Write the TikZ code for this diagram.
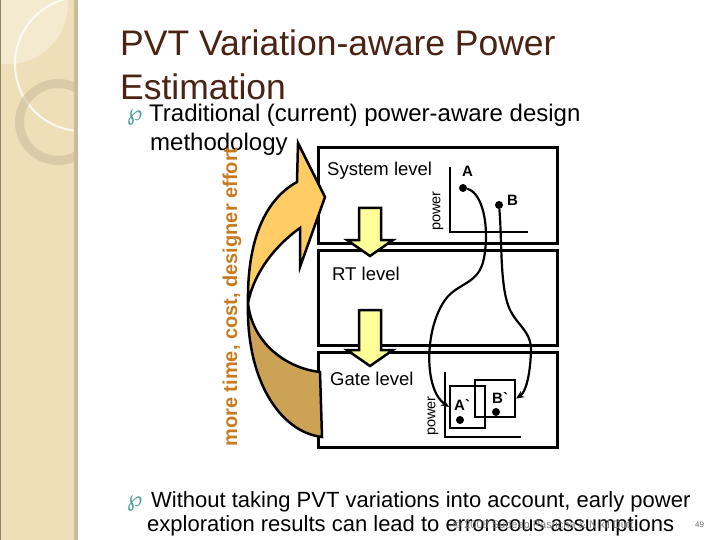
\documentclass[tikz,border=0pt]{standalone}
\usepackage{fontspec}
\setmainfont{Liberation Sans}
\newfontfamily\symfont{DejaVu Sans}
\newfontfamily\primefont{Liberation Sans}[Ligatures=TeXOff]
\usetikzlibrary{arrows.meta}
\definecolor{bandtan}{HTML}{EFDFB8}
\definecolor{bandedge}{HTML}{C9BB9C}
\definecolor{titlebrown}{HTML}{4B2315}
\definecolor{bullteal}{HTML}{4F9A9E}
\definecolor{lightorange}{HTML}{FFCC66}
\definecolor{darktan}{HTML}{CCA255}
\definecolor{efforttext}{HTML}{C87A1E}
\definecolor{paleyellow}{HTML}{FFFF99}
\tikzset{
  levelbox/.style={draw=black,line width=3pt,minimum width=239pt,minimum height=95pt,inner sep=0pt},
  leveltext/.style={anchor=base west,inner sep=0pt,font=\fontsize{18.5}{20}\selectfont},
  powertext/.style={rotate=90,inner sep=0pt,font=\fontsize{14.5}{16}\selectfont},
  ptlabel/.style={anchor=base west,inner sep=0pt,font=\primefont\bfseries\fontsize{15}{16}\selectfont},
  ptdot/.style={circle,fill=black,inner sep=0pt,minimum size=8pt},
  primebox/.style={draw=black,line width=2pt,inner sep=0pt},
  axis/.style={draw=black,line width=2.2pt},
  trend/.style={draw=black,line width=2.2pt,-{Stealth[length=8pt,width=7pt]}},
  downarrow/.style={draw=black,line width=2.5pt,fill=paleyellow,line join=miter},
  bodytext/.style={anchor=base west,inner sep=0pt,font=\fontsize{24}{26}\selectfont},
  bullet/.style={anchor=base west,inner sep=0pt,text=bullteal,font=\symfont\fontsize{22}{24}\selectfont}
}
\begin{document}
\begin{tikzpicture}[x=1pt,y=-1pt]
  \useasboundingbox (0,0) rectangle (720,540);
  % left band
  \begin{scope}
  \clip (0,0) rectangle (78,540);
  \fill[bandtan] (0,0) rectangle (78,540);
  \fill[white,opacity=0.35] (8,4) circle (60);
  \draw[white,line width=2pt,opacity=0.8] (82,64) circle (67);
  \draw[bandedge,line width=9pt,opacity=0.55] (58,122) circle (38.5);
  \fill[bandedge] (74,0) rectangle (78,540);
  \fill[bandedge!70!black] (0,0) rectangle (1.2,540);
  \end{scope}

  % title and bullets
  \node[anchor=base west,inner sep=0pt,text=titlebrown,font=\fontsize{35.5}{40}\selectfont] (title1) at (120,56) {PVT Variation-aware Power};
  \node[anchor=base west,inner sep=0pt,text=titlebrown,font=\fontsize{35.5}{40}\selectfont] (title2) at (120,100) {Estimation};
  \node[bullet] (bul1) at (127,121) {℘};
  \node[bodytext] (trad) at (149,122) {Traditional (current) power-aware design};
  \node[bodytext] (meth) at (150,151) {methodology};

  % level boxes
  \node[levelbox] (sys) at (437.5,195.5) {};
  \node[levelbox] (rtl) at (437.5,297.5) {};
  \node[levelbox] (gate) at (437.5,400) {};
  \node[leveltext] (systext) at (327,176) {System level};
  \node[leveltext] (rtltext) at (332,280) {RT level};
  \node[leveltext] (gatetext) at (330,385) {Gate level};

  % yellow refinement arrows
  \draw[downarrow] (359,208) -- (381,208) -- (381,240) -- (393,240) -- (370,256)
    -- (347,240) -- (359,240) -- cycle;
  \draw[downarrow] (359,310) -- (381,310) -- (381,350) -- (393,350) -- (370,366)
    -- (347,350) -- (359,350) -- cycle;

  % system level power plot
  \coordinate (sysorig) at (450,232);
  \draw[axis] (450,167) -- (sysorig) -- (528,232);
  \node[powertext] (syspow) at (438,211) {power};
  \node[ptlabel] (alab) at (462,177) {A};
  \node[ptlabel] (blab) at (507,206) {B};
  \node[ptdot] (dota) at (463,188) {};
  \node[ptdot] (dotb) at (499,205) {};

  % gate level power plot
  \coordinate (gateorig) at (445,437);
  \draw[axis] (445,372) -- (gateorig) -- (521,437);
  \node[powertext] (gatepow) at (433,416) {power};
  \node[primebox,minimum width=35pt,minimum height=42pt] (aprime) at (467.5,407) {};
  \node[primebox,minimum width=40pt,minimum height=37pt] (bprime) at (495,398.5) {};
  \node[ptlabel] (aplab) at (454,410) {A`};
  \node[ptlabel] (bplab) at (492,403) {B`};
  \node[ptdot] (dotap) at (460,420) {};
  \node[ptdot] (dotbp) at (496,412) {};

  % estimates drifting between levels
  \draw[trend] (dota) .. controls (482,192) and (490,225) .. (484,258)
    .. controls (479,285) and (458,282) .. (445,300)
    .. controls (424,330) and (424,390) .. (aprime.west);
  \draw[trend] (dotb) .. controls (502,240) and (500,282) .. (508,305)
    .. controls (515,325) and (532,330) .. (531,352)
    .. controls (530,375) and (526,392) .. (bprime.east);

  % big curved arrow
  \begin{scope}[line width=2.5pt,line join=miter]
  \coordinate (turn) at (248,303);
  \filldraw[fill=darktan] (turn) .. controls (246,380) and (280,432) .. (322,437)
    -- (320,372) .. controls (285,368) and (252,342) .. (turn);
  \filldraw[fill=lightorange] (turn) .. controls (247,235) and (268,198) .. (297,182)
    -- (298,143) -- (325,197) -- (300,267) -- (300,228)
    .. controls (276,245) and (254,272) .. (turn);
  \end{scope}
  \node[rotate=90,anchor=base,inner sep=0pt,text=efforttext,font=\bfseries\fontsize{20}{22}\selectfont] (effort) at (237,297) {more time, cost, designer effort};

  % bottom bullet
  \node[bullet] (bul2) at (127,506) {℘};
  \node[bodytext,font=\fontsize{22}{24}\selectfont] (without) at (151,507) {Without taking PVT variations into account, early power};
  \node[bodytext,font=\fontsize{22}{24}\selectfont] (explor) at (147,531) {exploration results can lead to erroneous assumptions};
  \node[anchor=base west,inner sep=0pt,text=gray,font=\fontsize{11}{12}\selectfont] (copy) at (453,528) {© 2008 Sudeep Pasricha \& Nikil Dutt};
  \node[anchor=base west,inner sep=0pt,text=gray!80!black,font=\fontsize{8}{9}\selectfont] (pagenum) at (695,527) {49};
\end{tikzpicture}
\end{document}
